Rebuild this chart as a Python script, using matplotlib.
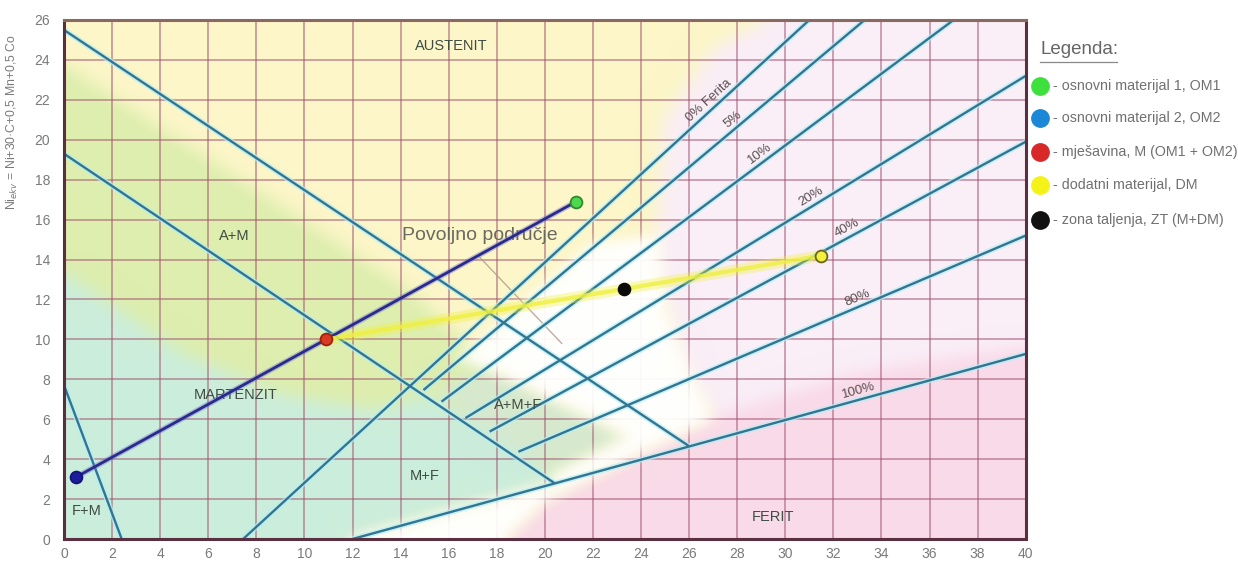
import numpy as np
import matplotlib
matplotlib.use("Agg")
import matplotlib.pyplot as plt
from matplotlib.path import Path
from matplotlib.colors import to_rgb
from matplotlib.lines import Line2D

plt.rcParams['font.family'] = ['Liberation Sans', 'DejaVu Sans']

# axis ticks (Cr_ekv on x, Ni_ekv on y)
X_TICKS = list(range(0, 41, 2))
Y_TICKS = list(range(0, 27, 2))

# structure boundaries (descending lines)
boundary_lines = [
    [(0.0, 25.5), (26.0, 4.65)],   # A / A+M
    [(0.0, 19.3), (20.4, 2.8)],    # A+M / M
    [(0.0, 7.7), (2.4, 0.0)],      # M / F+M
]

# ferrite content lines
ferrite_labels = ["0% Ferita", "5%", "10%", "20%", "40%", "80%", "100%"]
ferrite_start = [(7.45, 0.0), (14.95, 7.46), (15.7, 6.88), (16.7, 6.06),
                 (17.7, 5.38), (18.9, 4.37), (12.0, 0.0)]
ferrite_end = [(31.0, 26.0), (33.3, 26.0), (37.0, 26.0), (40.0, 23.2),
               (40.0, 19.9), (40.0, 15.2), (40.0, 9.27)]
ferrite_label_x = [27.0, 28.0, 29.1, 31.2, 32.7, 33.1, 33.1]

# region names
region_names = ["AUSTENIT", "A+M", "MARTENZIT", "F+M", "M+F", "A+M+F", "FERIT"]
region_xy = [(16.1, 24.7), (7.1, 15.2), (7.15, 7.2), (0.95, 1.4),
             (15.0, 3.15), (18.9, 6.7), (29.5, 1.1)]

# materials
mat_names = ["- osnovni materijal 1, OM1", "- osnovni materijal 2, OM2",
             "- mješavina, M (OM1 + OM2)", "- dodatni materijal, DM",
             "- zona taljenja, ZT (M+DM)"]
mat_cr = [21.3, 0.5, 10.9, 31.5, 23.3]
mat_ni = [16.9, 3.1, 10.0, 14.2, 12.5]
mat_face = ['#4ed84e', '#1c1c9c', '#d83a22', '#f4f03a', '#0a0a0a']
mat_edge = ['#2f8a2f', '#14147a', '#a02010', '#6a6420', '#0a0a0a']
legend_colors = ['#3ee03e', '#1a88d6', '#d82828', '#f5f218', '#111111']

# shaded areas of the diagram
base_color = '#fcf6c8'
area_layers = [
    ('#faeef7', [(24.6, 14.0), (25.0, 21.0), (27.0, 24.5), (30.0, 26.5), (41, 26.5),
                 (41, 9.8), (27.0, 6.0), (25.6, 9.0)]),
    ('#f9dae8', [(17.5, -1), (41, -1), (41, 9.8), (33.0, 8.3), (27.0, 6.1),
                 (24.0, 4.3), (20.0, 1.9)]),
    ('#ddeeae', [(-1, 24.5), (14.3, 12.5), (17.0, 9.5), (17.7, 8.5), (23.5, 5.1),
                 (20.4, 2.78), (12.0, 0.0), (-1, -1)]),
    ('#cbeddb', [(-1, -1), (-1, 14.1), (5.0, 9.2), (9.0, 7.2), (13.0, 6.4),
                 (15.0, 7.2), (17.0, 5.8), (19.5, 3.9), (20.4, 2.78), (12.0, 0.0),
                 (12.0, -1)]),
    ('#d6e9ce', [(15.5, 7.6), (17.7, 8.5), (23.5, 5.1), (20.4, 3.3), (19.5, 3.9),
                 (17.0, 5.8)]),
]
white_area = [(12.0, -1), (17.5, -1), (20.0, 1.9), (24.0, 4.3), (27.0, 6.0),
              (26.0, 8.5), (25.0, 11.5), (24.8, 15.2), (22.0, 14.8), (16.3, 8.9),
              (17.7, 8.5), (23.5, 5.1), (20.4, 3.3), (20.4, 2.78), (12.0, 0.0)]


def blur(a, sigma):
    r = int(3 * sigma)
    k = np.exp(-0.5 * (np.arange(-r, r + 1) / sigma) ** 2)
    k /= k.sum()
    pad = [(r, r), (r, r)] + [(0, 0)] * (a.ndim - 2)
    b = np.pad(a, pad, mode='edge')
    b = np.apply_along_axis(lambda v: np.convolve(v, k, mode='valid'), 0, b)
    b = np.apply_along_axis(lambda v: np.convolve(v, k, mode='valid'), 1, b)
    return b


nx, ny = 640, 420
gx, gy = np.meshgrid(np.linspace(0, 40, nx), np.linspace(0, 26, ny))
pts = np.column_stack([gx.ravel(), gy.ravel()])

bg = np.empty((ny, nx, 3))
bg[:] = to_rgb(base_color)
for color, poly in area_layers:
    m = Path(poly).contains_points(pts).reshape(ny, nx)
    bg[m] = to_rgb(color)
bg = np.clip(blur(bg, 6), 0, 1)

wmask = Path(white_area).contains_points(pts).reshape(ny, nx).astype(float)
wmask = blur(wmask, 5)
white = np.ones((ny, nx, 4))
white[..., 3] = np.clip(wmask * 0.95, 0, 1)

fig = plt.figure(figsize=(12.38, 5.66), dpi=100)
ax = fig.add_axes([0.0517, 0.0477, 0.7768, 0.917])
ax.set_xlim(0, 40)
ax.set_ylim(0, 26)

ax.imshow(bg, extent=(0, 40, 0, 26), origin='lower', aspect='auto', zorder=0,
          interpolation='bilinear')
ax.imshow(white, extent=(0, 40, 0, 26), origin='lower', aspect='auto', zorder=0.8,
          interpolation='bilinear')

ax.set_xticks(X_TICKS)
ax.set_yticks(Y_TICKS)
ax.set_axisbelow(True)
ax.grid(True, color='#a0506e', alpha=0.55, lw=1.3)
ax.tick_params(length=0, labelsize=10, labelcolor='#7a7a7a')
ax.tick_params(axis='x', pad=6)
ax.tick_params(axis='y', pad=10)
for side in ['left', 'bottom', 'right', 'top']:
    ax.spines[side].set_color('#5a3040')
    ax.spines[side].set_linewidth(2.2)
ax.spines['top'].set_color('#8a6a60')


def draw_line(p0, p1):
    xs = [p0[0], p1[0]]
    ys = [p0[1], p1[1]]
    ax.plot(xs, ys, color='#b0f0f6', lw=4.0, alpha=0.7, zorder=2,
            solid_capstyle='butt')
    ax.plot(xs, ys, color='#357490', lw=1.7, zorder=2.1, solid_capstyle='butt')


for seg in boundary_lines:
    draw_line(seg[0], seg[1])
for p0, p1 in zip(ferrite_start, ferrite_end):
    draw_line(p0, p1)

# percent labels along the ferrite lines
for lab, p0, p1, lx in zip(ferrite_labels, ferrite_start, ferrite_end, ferrite_label_x):
    slope = (p1[1] - p0[1]) / (p1[0] - p0[0])
    ly = p0[1] + (lx - p0[0]) * slope
    a = ax.transData.transform([p0, p1])
    ang = np.degrees(np.arctan2(a[1, 1] - a[0, 1], a[1, 0] - a[0, 0]))
    ax.text(lx, ly + 0.15, lab, rotation=ang, rotation_mode='anchor', ha='center',
            va='bottom', fontsize=9.5, color='#5a5050', zorder=3)

for name, (tx, ty) in zip(region_names, region_xy):
    ax.text(tx, ty, name, ha='center', va='center', fontsize=10.5,
            color='#3f4c44', zorder=3)

ax.text(17.3, 15.2, "Povoljno područje", ha='center', va='center', fontsize=14,
        color='#6a6a62', zorder=3)
ax.plot([17.3, 20.7], [14.1, 9.8], color='#b09a88', lw=1, alpha=0.8, zorder=1.5)

# mixing lines: OM2 -> M -> OM1 and M -> DM
ax.plot([mat_cr[1], mat_cr[2], mat_cr[0]], [mat_ni[1], mat_ni[2], mat_ni[0]],
        color='#6a6ad0', lw=4, alpha=0.4, zorder=4)
ax.plot([mat_cr[1], mat_cr[2], mat_cr[0]], [mat_ni[1], mat_ni[2], mat_ni[0]],
        color='#2a2a8c', lw=2, zorder=4.1)
ax.plot([mat_cr[2], mat_cr[3]], [mat_ni[2], mat_ni[3]], color='#f2f23a', lw=8,
        alpha=0.35, zorder=4)
ax.plot([mat_cr[2], mat_cr[3]], [mat_ni[2], mat_ni[3]], color='#f0f040', lw=3,
        alpha=0.8, zorder=4.1)

for cx, cy, fc, ec in zip(mat_cr, mat_ni, mat_face, mat_edge):
    ax.plot(cx, cy, 'o', ms=8.5, mfc=fc, mec=ec, mew=1.3, zorder=5)

# y axis title
fig.text(12 / 1238, 1 - 122 / 566, "Ni$_{ekv}$ = Ni+30·C+0,5 Mn+0,5 Co",
         rotation=90, ha='center', va='center', fontsize=8.8, color='#7a7a7a')

# legend
fig.text(1040 / 1238, 1 - 50 / 566, "Legenda:", ha='left', va='center',
         fontsize=13.5, color='#666666')
fig.add_artist(Line2D([1040 / 1238, 1117 / 1238], [1 - 62 / 566, 1 - 62 / 566],
                      color='#888888', lw=0.9))
leg_y = [86, 118, 152, 185, 220]
for name, col, py in zip(mat_names, legend_colors, leg_y):
    fig.add_artist(Line2D([1040 / 1238], [1 - py / 566], marker='o', ms=12.5,
                          mfc=col, mec=col, lw=0))
    fig.text(1053 / 1238, 1 - py / 566, name, ha='left', va='center',
             fontsize=10.3, color='#707070')

fig.savefig("out.png", dpi=100)
